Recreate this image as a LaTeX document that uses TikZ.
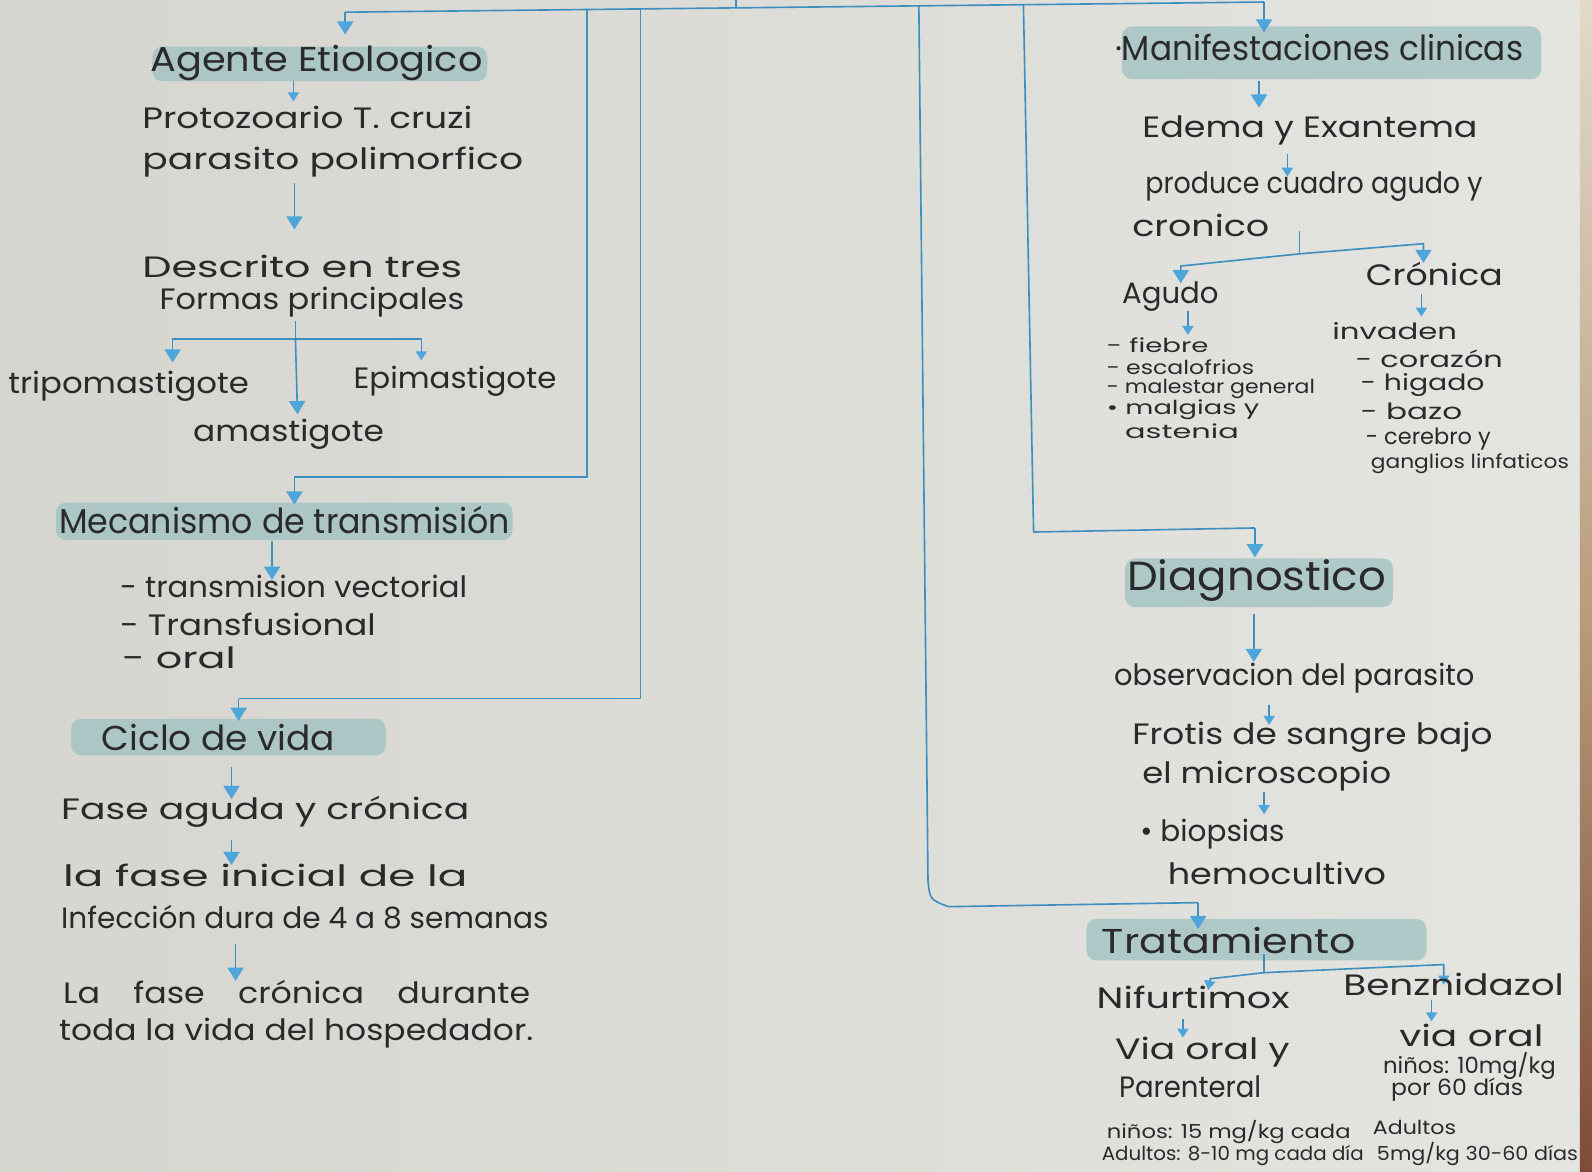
\documentclass[tikz,border=0pt]{standalone}
\usepackage{fontspec}
\setmainfont{Poppins}
\usetikzlibrary{arrows.meta}
\definecolor{paperL}{HTML}{D6D5D0}
\definecolor{paperR}{HTML}{E4E4E0}
\definecolor{edgeT}{HTML}{E2DACB}
\definecolor{edgeM}{HTML}{B99D7C}
\definecolor{edgeB}{HTML}{7E4B37}
\definecolor{ink}{HTML}{2A2A2A}
\definecolor{linec}{HTML}{3E8EC0}
\definecolor{headc}{HTML}{4EA5DA}
\definecolor{hlc}{HTML}{9DC1C1}
\newcommand\fitw[2]{\resizebox{#1pt}{\height}{#2}}
\newcommand\av[5][arr]{\coordinate (#2s) at (#3,#4); \coordinate (#2e) at (#3,#5); \draw[#1] (#2s) -- (#2e);}
\tikzset{
 txt/.style={anchor=west, inner sep=0pt, text=ink},
 hd/.style={txt, font=\fontsize{34}{40}\selectfont},
 bd/.style={txt, font=\fontsize{29}{34}\selectfont},
 sm/.style={txt, font=\fontsize{22}{26}\selectfont},
 ls/.style={txt, font=\fontsize{19}{22}\selectfont},
 xs/.style={txt, font=\fontsize{19}{22}\selectfont},
 conn/.style={draw=linec, line width=1.6pt, line join=round},
 arr/.style={conn, -{Triangle[width=16pt,length=13pt,color=headc]}},
 sarr/.style={conn, -{Triangle[width=11pt,length=9pt,color=headc]}},
 hl/.style={fill=hlc, opacity=0.75, rounded corners=10pt},
}
\begin{document}
\begin{tikzpicture}[x=1pt,y=-1pt]
\useasboundingbox (0,0) rectangle (1568,1154);
\shade[left color=paperL, right color=paperR] (0,0) rectangle (1556,1154);
\shade[top color=edgeT, bottom color=edgeM] (1556,0) rectangle (1568,600);
\shade[top color=edgeM, bottom color=edgeB] (1556,600) rectangle (1568,1154);

% highlights
\fill[hl] (150,46) rectangle (480,80);
\fill[hl] (55,495) rectangle (505,532);
\fill[hl] (70,708) rectangle (380,744);
\fill[hl] (1105,26) rectangle (1518,78);
\fill[hl] (1108,550) rectangle (1372,598);
\fill[hl] (1070,905) rectangle (1405,946);

% top bar and routed lines
\coordinate (tl) at (340,12);
\coordinate (tr) at (1245,2);
\coordinate (tstem) at (725,0);
\coordinate (tstemb) at (725,7.7);
\draw[conn] (tl) -- (tr);
\draw[conn] (tstem) -- (tstemb);
\coordinate (tle) at (340,34);
\draw[arr] (tl) -- (tle);
\coordinate (tre) at (1245,32);
\draw[arr] (tr) -- (tre);

\coordinate (v1t) at (578,9.4);
\coordinate (v1b) at (578,470);
\coordinate (v1l) at (290,470);
\coordinate (v1e) at (290,497);
\draw[conn] (v1t) -- (v1b) -- (v1l);
\draw[arr] (v1l) -- (v1e);

\coordinate (v2t) at (631,8.8);
\coordinate (v2b) at (631,688);
\coordinate (v2l) at (235,688);
\coordinate (v2e) at (235,710);
\draw[conn] (v2t) -- (v2b) -- (v2l);
\draw[arr] (v2l) -- (v2e);

\coordinate (v3t) at (1008,4.5);
\coordinate (v3b) at (1018,524);
\coordinate (v3r) at (1236,520);
\coordinate (v3e) at (1236,549);
\draw[conn] (v3t) -- (v3b) -- (v3r);
\draw[arr] (v3r) -- (v3e);

\coordinate (v4t) at (905,5.6);
\coordinate (v4m) at (914,868);
\coordinate (v4c) at (934,893);
\coordinate (v4r) at (1180,889);
\coordinate (v4e) at (1180,915);
\draw[conn] (v4t) -- (v4m) .. controls (916,886) .. (v4c) -- (v4r);
\draw[arr] (v4r) -- (v4e);

% left column
\node[hd] (agente) at (148,62) {\fitw{327}{Agente Etiologico}};
\av[sarr]{a1}{289}{80}{100}
\node[bd] (prot) at (140,116) {\fitw{325}{Protozoario T. cruzi}};
\node[bd] (para) at (140,160) {\fitw{375}{parasito polimorfico}};
\av{a2}{290}{180}{226}
\node[bd] (desc1) at (140,262) {\fitw{315}{Descrito en tres}};
\node[bd] (desc2) at (157,298) {\fitw{300}{Formas principales}};
\coordinate (b1) at (291,316);
\coordinate (b2) at (291,334);
\coordinate (bl) at (170,334);
\coordinate (ble) at (170,357);
\coordinate (br) at (415,334);
\coordinate (bre) at (415,355);
\coordinate (bm) at (293,408);
\draw[conn] (b1) -- (b2);
\draw[arr] (b2) -- (bl) -- (ble);
\draw[sarr] (b2) -- (br) -- (bre);
\draw[arr] (b2) -- (bm);
\node[bd] (tripo) at (8,380) {\fitw{237}{tripomastigote}};
\node[bd] (epi) at (348,376) {\fitw{200}{Epimastigote}};
\node[bd] (ama) at (190,428) {\fitw{188}{amastigote}};

\node[hd] (meca) at (58,512) {\fitw{444}{Mecanismo de transmisión}};
\av{a3}{268}{533}{571}
\node[bd] (t1) at (118,578) {\fitw{342}{- transmision vectorial}};
\node[bd] (t2) at (118,615) {\fitw{252}{- Transfusional}};
\node[bd] (t3) at (120,648) {\fitw{112}{- oral}};

\node[hd] (ciclo) at (100,726) {\fitw{230}{Ciclo de vida}};
\av{a4}{228}{755}{787}
\node[bd] (fase) at (60,800) {\fitw{402}{Fase aguda y crónica}};
\av{a5}{228}{827}{852}
\node[bd] (ini1) at (62,862) {\fitw{398}{la fase inicial de la}};
\node[bd] (ini2) at (60,903) {\fitw{480}{Infección dura de 4 a 8 semanas}};
\av{a6}{232}{930}{966}
\node[bd] (cro1) at (62,977) {\fitw{460}{La\quad fase\quad crónica\quad durante}};
\node[bd] (cro2) at (58,1018) {\fitw{467}{toda la vida del hospedador.}};

% right column
\node[hd] (manif) at (1098,47) {\fitw{402}{·Manifestaciones clinicas}};
\av{a8}{1240}{80}{106}
\node[bd] (edema) at (1125,128) {\fitw{330}{Edema y Exantema}};
\av[sarr]{a9}{1268}{152}{174}
\node[bd] (prod1) at (1128,184) {\fitw{332}{produce cuadro agudo y}};
\node[bd] (prod2) at (1115,222) {\fitw{135}{cronico}};
\coordinate (c1) at (1280,228);
\coordinate (c2) at (1280,250);
\coordinate (cl) at (1163,262);
\coordinate (cle) at (1163,279);
\coordinate (cr) at (1402,240);
\coordinate (cre) at (1402,259);
\draw[conn] (c1) -- (c2);
\draw[arr] (c2) -- (cl) -- (cle);
\draw[arr] (c2) -- (cr) -- (cre);
\node[bd] (agudo) at (1105,292) {\fitw{95}{Agudo}};
\node[bd] (cronica) at (1345,270) {\fitw{135}{Crónica}};
\av[sarr]{a10}{1170}{306}{330}
\av[sarr]{a11}{1400}{290}{312}
\node[ls] (f1) at (1090,340) {\fitw{100}{- fiebre}};
\node[ls] (f2) at (1090,362) {\fitw{145}{- escalofrios}};
\node[ls] (f3) at (1090,383) {\fitw{205}{- malestar general}};
\node[ls] (f4) at (1090,404) {\fitw{150}{• malgias y}};
\node[ls] (f5) at (1108,425) {\fitw{112}{astenia}};
\node[sm] (inv) at (1312,326) {\fitw{123}{invaden}};
\node[sm] (o1) at (1335,353) {\fitw{145}{- corazón}};
\node[sm] (o2) at (1340,379) {\fitw{122}{- higado}};
\node[sm] (o3) at (1340,405) {\fitw{100}{- bazo}};
\node[sm] (o4) at (1345,432) {\fitw{123}{- cerebro y}};
\node[xs] (o5) at (1350,457) {\fitw{195}{ganglios linfaticos}};

\node[txt, font=\fontsize{40}{46}\selectfont] (diag) at (1110,572) {\fitw{255}{Diagnostico}};
\av{a12}{1235}{605}{652}
\node[bd] (obs) at (1097,668) {\fitw{355}{observacion del parasito}};
\av[sarr]{a13}{1250}{694}{714}
\node[bd] (frot1) at (1115,726) {\fitw{355}{Frotis de sangre bajo}};
\node[bd] (frot2) at (1125,764) {\fitw{245}{el microscopio}};
\av[sarr]{a14}{1245}{780}{802}
\node[bd] (bio) at (1123,822) {\fitw{142}{• biopsias}};
\node[bd] (hemo) at (1150,860) {\fitw{215}{hemocultivo}};

\node[hd] (trat) at (1085,926) {\fitw{250}{Tratamiento}};
\coordinate (d1) at (1245,940);
\coordinate (d2) at (1245,958);
\coordinate (dl) at (1192,964);
\coordinate (dle) at (1190,975);
\coordinate (dr) at (1422,950);
\coordinate (dre) at (1422,970);
\draw[conn] (d1) -- (d2);
\draw[sarr] (d2) -- (dl) -- (dle);
\draw[sarr] (d2) -- (dr) -- (dre);
\node[bd] (nifur) at (1080,982) {\fitw{190}{Nifurtimox}};
\node[bd] (benz) at (1323,970) {\fitw{217}{Benznidazol}};
\av[sarr]{a15}{1165}{1004}{1022}
\av[sarr]{a16}{1410}{985}{1006}
\node[bd] (via1) at (1098,1036) {\fitw{172}{Via oral y}};
\node[bd] (via2) at (1102,1070) {\fitw{140}{Parenteral}};
\node[bd] (via3) at (1378,1020) {\fitw{142}{via oral}};
\node[sm] (n1) at (1362,1050) {\fitw{170}{niños: 10mg/kg}};
\node[sm] (n2) at (1370,1073) {\fitw{130}{por 60 días}};
\node[xs] (n3) at (1090,1115) {\fitw{240}{niños: 15 mg/kg cada}};
\node[xs] (n4) at (1085,1138) {\fitw{258}{Adultos: 8-10 mg cada día}};
\node[xs] (n5) at (1352,1110) {\fitw{82}{Adultos}};
\node[xs] (n6) at (1356,1137) {\fitw{198}{5mg/kg 30-60 días}};
\end{tikzpicture}
\end{document}
